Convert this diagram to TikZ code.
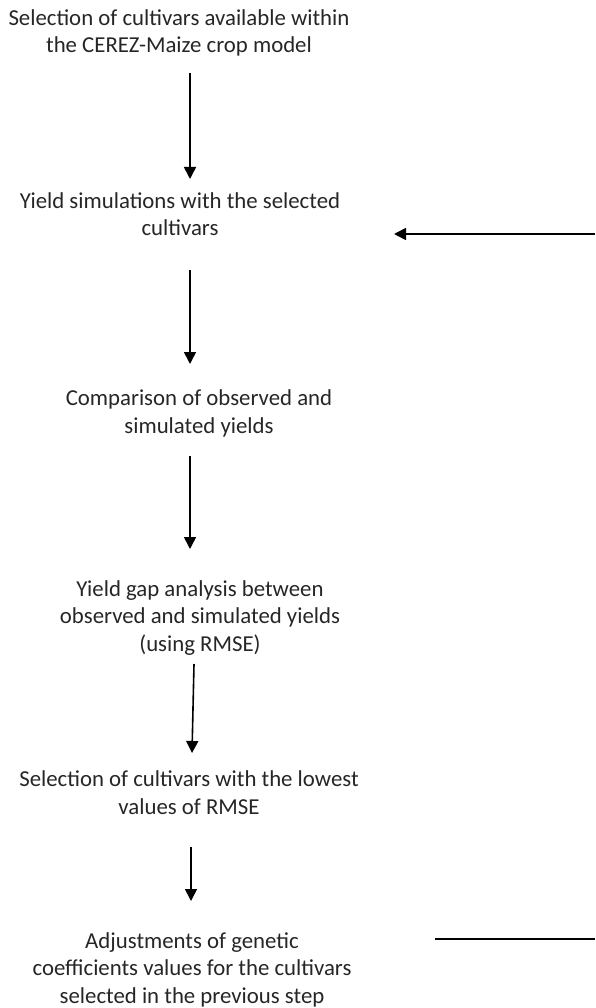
\documentclass[tikz,border=0pt]{standalone}
\usepackage{fontspec}
\setmainfont{Carlito}
\usetikzlibrary{arrows.meta}
\definecolor{txt}{RGB}{38,38,38}
\begin{document}
\begin{tikzpicture}[x=1pt,y=1pt,
  stepbox/.style={align=center,inner sep=0pt,anchor=base,text=txt,
    font=\fontsize{22.8pt}{27.5pt}\selectfont},
  arr/.style={line width=1.6pt,black,-{Triangle[width=12pt,length=12pt]}},
  plain/.style={line width=1.6pt,black}]
\useasboundingbox (0,0) rectangle (595,-1008);
\node[stepbox] (t1) at (179,-53) {Selection of cultivars available within\\the CEREZ-Maize crop model};
\node[stepbox] (t2) at (180,-236) {Yield simulations with the selected\\cultivars};
\node[stepbox] (t3) at (199,-433) {Comparison of observed and\\simulated yields};
\node[stepbox] (t4) at (200,-651) {Yield gap analysis between\\observed and simulated yields\\(using RMSE)};
\node[stepbox] (t5) at (189,-814) {Selection of cultivars with the lowest\\values of RMSE};
\node[stepbox] (t6) at (192,-1003) {Adjustments of genetic\\coefficients values for the cultivars\\selected in the previous step};
\coordinate (a1s) at (190,-73);  \coordinate (a1e) at (190,-179);
\coordinate (a2s) at (190,-270); \coordinate (a2e) at (190,-364);
\coordinate (a3s) at (190,-456); \coordinate (a3e) at (190,-549);
\coordinate (a4s) at (194,-664); \coordinate (a4e) at (192,-753);
\coordinate (a5s) at (191,-847); \coordinate (a5e) at (191,-901);
\coordinate (hs) at (595,-234);  \coordinate (he) at (394,-234);
\coordinate (ls) at (435,-939);  \coordinate (le) at (595,-939);
\draw[arr] (a1s) -- (a1e);
\draw[arr] (a2s) -- (a2e);
\draw[arr] (a3s) -- (a3e);
\draw[arr] (a4s) -- (a4e);
\draw[arr] (a5s) -- (a5e);
\draw[arr] (hs) -- (he);
\draw[plain] (ls) -- (le);
\end{tikzpicture}
\end{document}
